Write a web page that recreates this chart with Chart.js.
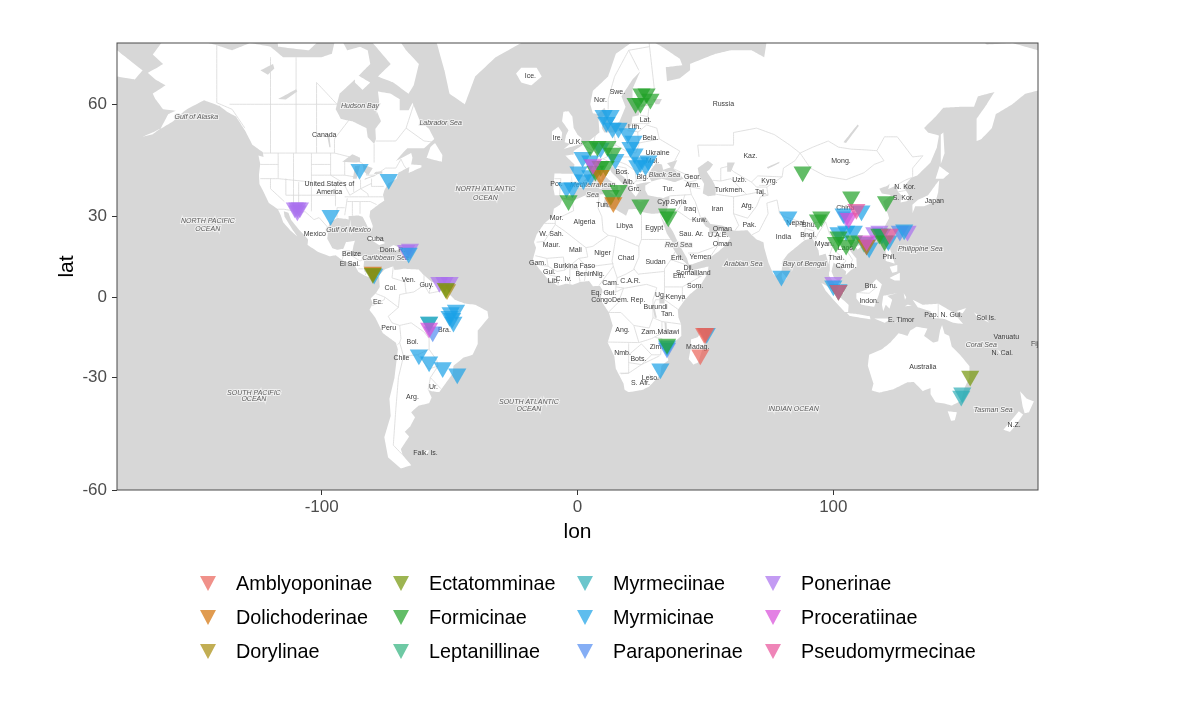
<!DOCTYPE html>
<html>
<head>
<meta charset="utf-8">
<title>Ant subfamily records</title>
<script src="https://cdn.jsdelivr.net/npm/chart.js@4"></script>
<style>
    html, body { margin: 0; padding: 0; background: #fff; }
    #wrap { position: relative; width: 1200px; height: 705px; font-family: "Liberation Sans", Arial, sans-serif; }
    #legend { position: absolute; left: 0; top: 0; }
    .key { position: absolute; font-size: 19.8px; line-height: 22px; color: #000; white-space: nowrap; }
    .tri { position: absolute; width: 16px; height: 15px; clip-path: polygon(0 0, 100% 0, 50% 100%); }
</style>
</head>
<body>
<div id="wrap">
    <canvas id="chart" width="1200" height="705"></canvas>
    <div id="legend"></div>
</div>
<script>
// subfamilies, in legend order
const subfamilies = ['Amblyoponinae', 'Dolichoderinae', 'Dorylinae', 'Ectatomminae', 'Formicinae', 'Leptanillinae',
    'Myrmeciinae', 'Myrmicinae', 'Paraponerinae', 'Ponerinae', 'Proceratiinae', 'Pseudomyrmecinae'];
const subfamilyColors = ['rgba(234,99,88,.7)', 'rgba(211,112,5,.7)', 'rgba(168,139,12,.7)', 'rgba(115,149,8,.7)',
    'rgba(32,161,39,.7)', 'rgba(49,178,126,.7)', 'rgba(45,174,182,.7)', 'rgba(26,161,231,.7)',
    'rgba(81,139,241,.7)', 'rgba(169,112,238,.7)', 'rgba(215,75,217,.7)', 'rgba(232,81,154,.7)'];
// back to front
const drawOrder = ['Paraponerinae', 'Ponerinae', 'Myrmicinae', 'Leptanillinae', 'Myrmeciinae', 'Formicinae',
    'Dolichoderinae', 'Dorylinae', 'Ectatomminae', 'Proceratiinae', 'Amblyoponinae', 'Pseudomyrmecinae'];

const lonTicks = [-100, 0, 100];
const latTicks = [-60, -30, 0, 30, 60];

// records, lon / lat
const amblyoponinaeLon = [50, 49.5, 48];
const amblyoponinaeLat = [-14, -14, -22];
const dolichoderinaeLon = [9, 14, -80, 113];
const dolichoderinaeLat = [43, 34.7, 9.8, 20];
const dorylinaeLon = [-51];
const dorylinaeLat = [3];
const ectatomminaeLon = [-80, -51.5, 153.5];
const ectatomminaeLat = [9.3, 3.5, -29.5];
const formicinaeLon = [22.7, 24.6, 25, 27, 28.5, 5, 7.8, 11.7, 13.7, 9, 11, 7, -3.5, 16, 13, 24.6, 35, 35.5, 88, 107, 120.6, 95.3, 94, 101, 102, 105, 108, 118, 120, 102, 35];
const formicinaeLat = [60.2, 60.2, 62, 62, 61, 50.7, 50.7, 50.7, 49, 45.5, 45.5, 44.2, 35.3, 38.5, 37, 34, 31, 30, 44, 36.5, 35, 30, 29, 21, 23, 20, 21.5, 24, 21.5, 2.7, -18];
const leptanillinaeLon = [112];
const leptanillinaeLat = [21];
const myrmeciinaeLon = [150.4, 150, -58];
const myrmeciinaeLat = [-35, -36, -9.7];
const myrmicinaeLon = [-85.2, -73.8, -96.5, -66, -79.5, -49.6, -49, -48.5, -50, -47.5, -58, -62, -58, -52.7, -47, 32.4, 35, 50.5,
    10.2, 12.9, 11.3, 13.7, 16, 19.5, 21.9, 20.7, 22.3, 23.4, 24.6, 26.6, 27.7,
    2, 5, 2.3, 0.4, -4.3, -2, 9, 14.8, 5,
    82.4, 79.7, 104, 111, 102, 105, 108, 119, 121.5, 113, 114, 127.7, 102, 100];
const myrmicinaeLat = [44.7, 41.8, 30.5, 17, 9, -6, -8.2, -9.7, -7.5, -5, -9.7, -22, -24.5, -26.5, -28.7, -27, -18.7, -14,
    57.8, 57.8, 56.3, 55, 55, 53.8, 52, 50.5, 48.8, 45.7, 46.5, 45.7, 47,
    47.9, 47, 41.7, 44, 39.3, 39.3, 50.3, 47.4, 42.9,
    30, 8.2, 31, 32, 24.5, 25, 25, 24, 21.5, 20, 19, 25.5, 3, 4.5];
const paraponerinaeLon = [-56.6, 35, 126];
const paraponerinaeLat = [-13.4, -19.5, 25];
const ponerinaeLon = [-110.5, -109.5, -108.5, -109.5, -65.5, -67, -52, -50, -54, 100, 118, 116, 129, 105];
const ponerinaeLat = [33, 33, 33, 32, 18.5, 18, 5.8, 5.8, 5.8, 5.8, 25, 24.5, 25, 30];
const proceratiinaeLon = [-58, 106, 113, 6];
const proceratiinaeLat = [-12, 29.5, 21.5, 46];
const pseudomyrmecinaeLon = [102, 122, 109];
const pseudomyrmecinaeLat = [2.7, 24, 32.5];

const recordLon = [amblyoponinaeLon, dolichoderinaeLon, dorylinaeLon, ectatomminaeLon, formicinaeLon, leptanillinaeLon,
    myrmeciinaeLon, myrmicinaeLon, paraponerinaeLon, ponerinaeLon, proceratiinaeLon, pseudomyrmecinaeLon];
const recordLat = [amblyoponinaeLat, dolichoderinaeLat, dorylinaeLat, ectatomminaeLat, formicinaeLat, leptanillinaeLat,
    myrmeciinaeLat, myrmicinaeLat, paraponerinaeLat, ponerinaeLat, proceratiinaeLat, pseudomyrmecinaeLat];

// land, [lon, lat]
const northAmerica = [[-168,65.6],[-164,66.5],[-162,67],[-166,68.4],[-162,70.3],[-156.5,71.3],[-150,70.5],[-141,69.7],[-135,69],[-128,70],[-120,69.5],[-115,68],[-108,68],[-100,68],[-96,68.5],[-94,71.5],[-90,69],[-85,69.5],[-82,69],[-81,67],[-87,64.5],[-93,62],[-94.5,59],[-92.5,57],[-88,56.5],[-82.5,55],[-82,52.9],[-79.5,51.3],[-78.8,52.5],[-79,54.8],[-76.8,56.5],[-78.5,58.7],[-77.5,60.5],[-78,62.4],[-73,62],[-69.5,61],[-69.5,58.8],[-66,58.8],[-64.5,60.3],[-61.5,56.5],[-58,54.8],[-56,52.5],[-60,50.2],[-66.5,50.2],[-69,48.5],[-71,46.9],[-65,49],[-64.5,47.8],[-65,46],[-61,45.8],[-61,45.2],[-66,43.6],[-65.7,45.3],[-67,44.9],[-70,43.7],[-70.7,42],[-74,40.6],[-75.5,38.5],[-76,37],[-75.5,35.3],[-78,33.9],[-81,32],[-81.3,30],[-80,26.8],[-80.4,25.2],[-81.8,26],[-82.8,28],[-84,30],[-86,30.4],[-89.5,30.2],[-89.4,29],[-91,29.3],[-94,29.6],[-97,28],[-97.4,25.5],[-97.8,22.3],[-95.8,18.8],[-94,18.2],[-91.5,18.6],[-90.5,21],[-87,21.5],[-87.6,19.5],[-88,17.5],[-88.8,15.9],[-84,15.9],[-83.3,15],[-83.6,12],[-83.3,10],[-81.5,8.9],[-79.6,9.5],[-77.4,8.6],[-78,7.6],[-79.5,8.9],[-80.4,7.4],[-82.8,8.2],[-85.7,9.9],[-87.5,13],[-91.5,14],[-94.5,16.2],[-97,15.8],[-101.5,17.5],[-105.5,20],[-105.3,22],[-108.5,25.2],[-112,29],[-113,31.3],[-114.8,31.8],[-114.5,30],[-111,25],[-109.5,23],[-112,25],[-115,28],[-116,30.5],[-117.1,32.5],[-120.6,34.5],[-122.5,37.7],[-124.3,40.4],[-124.5,43],[-124,46.2],[-124.7,48.4],[-122.7,48],[-123,49.2],[-127,51],[-130,54.5],[-133.5,57.5],[-137,58.5],[-140,59.7],[-146,60.8],[-149,60],[-152,59.2],[-154,58.5],[-158,56.5],[-163,54.8],[-160,58],[-157,58.7],[-162,59],[-165,61],[-166,62],[-161,63.5],[-165,64.5]];
const southAmerica = [[-77.5,8.6],[-75.5,10.7],[-72,12],[-71.5,10.5],[-68,11],[-62,10.7],[-60,8.5],[-57,6],[-52,4.8],[-50,1],[-48,-1],[-44,-2.5],[-40,-3],[-35.2,-5.5],[-34.8,-8],[-39,-13],[-39,-18],[-41,-22],[-44.5,-23],[-48.5,-26],[-48.7,-28.5],[-52,-32.5],[-54,-34.8],[-57,-34.5],[-58.4,-34],[-57,-36.5],[-58,-38.3],[-62,-39],[-65,-41],[-63.5,-42.5],[-65.3,-45],[-67.5,-46.5],[-65.8,-47.8],[-69,-51],[-68.3,-52.5],[-65,-54.8],[-69,-55.5],[-74,-53],[-75.5,-48],[-73,-42],[-73.5,-37],[-71.5,-30],[-70.2,-20],[-71,-17.5],[-76,-14],[-79,-8],[-81.3,-5],[-80,-2.5],[-80.8,-0.5],[-78.8,1.5],[-77.3,4],[-77.5,7]];
const africa = [[-5.9,35.8],[-2,35.2],[3,36.9],[10,37.3],[11,36.9],[10.2,34.3],[11,33.2],[15.2,32.3],[19,30.3],[20,32.5],[23,32.6],[25,31.6],[29,31],[32.3,31.2],[32.6,29.9],[35,24],[37.2,21],[37.5,18.5],[39.5,15.5],[43.2,12.4],[43.2,11.5],[44.5,10.4],[51.2,11.9],[50.8,9],[48,4.5],[44,1.2],[41.5,-1.7],[39.2,-5],[39.5,-8],[40.5,-10.5],[40.6,-15],[37,-18],[34.9,-20],[35.5,-24],[32.8,-26],[32.4,-29],[28,-33],[25.7,-34],[20,-34.8],[18.4,-34],[18,-32],[15,-27],[14.4,-22.5],[11.8,-17.5],[13.8,-11],[12.2,-5.8],[9,-1],[9.7,3],[8.7,4.5],[6,4.3],[4.5,6.3],[1,5.9],[-2,4.8],[-4.5,5.2],[-7.5,4.4],[-11.4,6.9],[-13.3,9],[-15,11],[-16.8,13.3],[-17.4,14.7],[-16.2,19],[-17,21],[-16,23.7],[-13,27.7],[-9.8,30],[-9.2,32.7],[-6.8,34]];
const eurasia = [[-5.6,36],[-2,36.8],[0,38.7],[0.3,40],[3.2,41.9],[4.5,43.4],[6.5,43.1],[8.8,44.4],[10.5,43],[12.3,41.7],[15.7,40],[16,38],[17,39],[16.6,40],[18.4,40],[15.8,42],[13.5,43.6],[12.4,45],[13.8,45.6],[15.5,44],[19,42],[19.5,40.5],[21.2,38],[22.8,36.5],[24,38],[22.9,40.3],[26,40.8],[29,41.1],[28,42.5],[28.7,44.5],[30.7,46.4],[33,46],[33.5,44.5],[36.5,45.2],[35,46.3],[39,47.2],[37.5,44.8],[41.5,42],[38,41],[33,42],[29,41.2],[26.5,40],[26.5,38.5],[27.5,37],[30.5,36.5],[33.5,36.1],[36,36.8],[35.8,35],[34.9,32],[34.3,31.3],[32.3,31.2],[33,29.5],[34.2,27.8],[34.9,29.5],[35,28],[37.2,25],[39,21.5],[41,18],[42.8,15],[43.5,12.7],[45,12.8],[49,14.2],[52.2,15.6],[55,17.5],[58,20],[59.8,22.5],[56.5,24.5],[56.3,26.3],[54,24.2],[51.6,24.3],[51.5,26],[50,26.7],[48,29.8],[50,30],[52,27.5],[56.5,27],[61.5,25.1],[66.5,25.3],[68,23.7],[70,22],[72.7,21],[73,19],[74.8,13],[76.5,9],[77.5,8.1],[79.8,10.3],[80.2,14],[82.3,16.7],[86.5,20],[88.8,21.7],[91.8,22.4],[94.2,18],[94.5,16],[97,16.7],[98.5,12],[98.3,8.3],[100.3,5.5],[101.3,3],[103.4,1.4],[104.2,1.5],[103.4,4],[102,6.3],[100.3,7.5],[99.3,10],[100.1,13.4],[101,12.7],[102.8,11.7],[105,10],[104.8,8.6],[106.7,10.4],[109.2,11.8],[109,15],[106,18.5],[106.7,20.7],[109.5,21.5],[110.5,20.4],[113.5,22.2],[117,23.6],[119.5,25.6],[121.8,29.5],[121.3,31],[120,33.5],[119.5,35],[122.5,37],[119,37.5],[118,39],[121,39.8],[122,40.5],[121.5,38.9],[124.5,40],[125.3,38],[126.6,37],[126.3,34.7],[129,35.2],[129.5,37],[127.5,39.5],[130.5,42.3],[133,43],[138,46.5],[140.5,50.5],[141.3,53.3],[137,54],[135.5,55],[140,57.5],[143,59.3],[150,59.5],[155,59.5],[156.5,61.5],[163,62.3],[160,60],[156,57],[156,52],[158,52.5],[162,55],[163.5,58],[170,60],[175,62],[180,62.6],[180,69],[170,70],[160,69.8],[150,72],[140,73],[130,71],[115,73.5],[105,77],[85,75],[75,72.5],[73,68],[68,69],[60,69],[54,68.5],[44,67],[44,66],[40,64.7],[35,64.2],[34.5,66.5],[41,66.8],[40,67.8],[33,69.5],[25,71],[15,68.5],[12,65],[6,62.5],[5,60],[6,58.2],[8,58],[10.5,59.3],[11.3,58.5],[12.8,55.5],[14.3,55.5],[16.5,56.5],[18.8,59.5],[17.2,61.5],[21.5,64.5],[24.5,65.8],[21.5,62.8],[21.5,60.7],[25,60],[30,60],[24.5,59.4],[24,57.8],[21.5,57.5],[21,55.5],[18.5,54.7],[14,54],[10.5,54],[9.5,55],[10.5,57.7],[8.2,57],[8.6,54],[4.5,52],[2,51],[-1.5,49.5],[-1.5,48.6],[-4.7,48.3],[-1.2,46],[-1.7,43.4],[-9,43.5],[-9.4,39],[-8.9,37],[-6.5,37]];
const australia = [[114,-22],[113.5,-26],[115.7,-32],[115,-34.3],[118,-35],[123.5,-33.9],[129,-31.6],[131.5,-31.5],[135,-34.5],[138,-33.5],[138,-35.5],[140,-38],[144,-38.5],[146.3,-39],[150,-37.5],[151,-34],[153.2,-30],[153.2,-26],[150,-22.5],[146.3,-19],[145.3,-15],[143.5,-14.2],[142.5,-10.8],[141.7,-13],[141,-17],[139,-17.5],[135.5,-15],[136.8,-12.2],[132.5,-11.5],[130,-13],[129,-15],[125.5,-14],[122.3,-17.5],[119,-20]];
const islands = [
    [[-80,73.7],[-72,71.5],[-67,69],[-62,67],[-64,63.5],[-66,62],[-72,64],[-78,65],[-73,67],[-80,70]],
    [[-117,69.5],[-105,69],[-102,70],[-110,73],[-118,72]],
    [[-87,65.5],[-81,64],[-84,62.7],[-87,64]],
    [[-59,47.7],[-53,46.7],[-52.8,48.5],[-55.7,51.5],[-57.5,50.5]],
    [[-85,21.9],[-80,23],[-75,20.7],[-77.5,19.9],[-82,22.5]],
    [[-74.4,18.5],[-72,20],[-68.4,18.6],[-71,18]],
    [[-78.3,18.4],[-76.3,18.2],[-77,17.8]],
    [[-67.2,18.5],[-65.6,18.4],[-66,18],[-67.2,18]],
    [[-55,70],[-52,66],[-50,62],[-44,60],[-40,65],[-32,68],[-22,70],[-22,75],[-60,76]],
    [[-24,65.5],[-22,64],[-18,63.5],[-14,65],[-16,66.4],[-22,66.4]],
    [[-180,69],[-170,66],[-173,64.5],[-180,65]],
    [[-170,53],[-165,54.3],[-163,54.9],[-166,53.6]],
    [[-5.5,50],[1.2,51.2],[1.6,52.7],[0,53.5],[-1.5,55],[-2,57.5],[-3.5,58.6],[-5.5,58.5],[-6,56.5],[-3.5,54.5],[-4.5,53.3],[-5,51.7],[-3,51.3]],
    [[-10,52],[-6.3,52.2],[-6,54],[-7.5,55.3],[-10,54.2]],
    [[12.5,38],[15.5,38.2],[15,36.7]],
    [[8.3,41],[9.7,41],[9.5,39],[8.5,39]],
    [[8.6,42.5],[9.5,43],[9.3,41.4]],
    [[23.5,35.5],[26.3,35.2],[24,35]],
    [[32.3,35],[34.5,35.6],[33.5,34.7]],
    [[11,56],[12.6,56],[12,55]],
    [[130.9,34],[131,31.2],[132,33.5],[135.5,33.5],[140,35],[141,38],[141.4,41.5],[139.8,40],[137,37],[133,35.5]],
    [[140,42],[141.5,45.5],[145.3,43.5],[143,42]],
    [[142,46],[143.5,49],[143,54],[142,53.5]],
    [[121,25],[122,25],[120.8,22],[120.1,23]],
    [[108.7,19.3],[110.5,20],[111,19.5],[109.5,18.2]],
    [[80,9.7],[81.8,7.5],[80.5,6],[79.8,8]],
    [[95.3,5.6],[98,4],[103.8,-1],[106,-3],[105.8,-5.8],[104.5,-5.8],[100.5,-1.5],[97,2.5]],
    [[105.3,-6.2],[108.5,-6.5],[114.3,-7.5],[114.5,-8.7],[106.4,-7.4]],
    [[109,1.5],[113,3],[116.8,7],[119,5],[117.8,1],[116,-3.8],[111,-3],[109,-0.5]],
    [[119.5,0.5],[125,1.5],[121,0.5],[123,-1],[122,-4.5],[120.5,-3],[119.5,-5.5],[119,-3]],
    [[120.5,18.5],[122.2,18.4],[124,13],[120.5,14]],
    [[122,7.5],[126,9.5],[126,6.5],[124,6.5]],
    [[122,11.8],[125,12.5],[125,10],[123,9.5]],
    [[118,9],[119.5,11],[117.5,8.3]],
    [[131,-1],[135,-3],[141,-2.6],[147,-6],[150.8,-10.5],[147,-10],[143.5,-8.5],[138.5,-8],[138,-5.5],[133,-4]],
    [[148,-5.5],[152,-4.2],[150.5,-6.3]],
    [[124,-10],[127,-8.4],[125,-9]],
    [[116,-8.3],[123,-8.3],[120,-10]],
    [[127.5,1.5],[128.5,0],[128,-1]],
    [[129,-3],[131,-3.3],[128,-3.6]],
    [[155,-6],[160,-9],[161,-10],[156,-7.5]],
    [[164,-20],[167,-22.3],[165,-21.5]],
    [[166.7,-15],[168,-16.5],[167,-16]],
    [[177.3,-17.5],[178.6,-18],[177.5,-18.3]],
    [[144.7,-40.7],[148.3,-41],[147.5,-43.3],[146,-43.5]],
    [[173,-34.5],[175.5,-36.8],[178.4,-37.7],[176.5,-41],[174.8,-41.3],[174,-39.3]],
    [[172.5,-40.7],[174.2,-41.7],[171,-45],[169,-46.6],[166.5,-46],[170,-43]],
    [[49.3,-12],[50.4,-15.5],[49.5,-18],[47.2,-24.8],[45.3,-25.5],[43.5,-23.5],[44.2,-20],[44.4,-16.3],[47,-15.5]],
    [[-61,-51.3],[-58,-51.3],[-59,-52.3]]
];
const waterBodies = [
    [[47,45],[51,47],[53,46],[51.5,44.5],[50.5,44],[52.8,41.5],[54,39.5],[54,37],[51,36.7],[49,37.5],[49.5,40.5],[47.5,43]],
    [[-92,46.7],[-88,48.7],[-85,47.8],[-85,46.6],[-87.5,46.5]],
    [[-87.8,42],[-86.3,42],[-85,45.7],[-87,45.5]],
    [[-84,46],[-80,45],[-81.7,43],[-83.5,44]],
    [[-83.3,41.6],[-79,42.8],[-79.5,43],[-83,42.1]],
    [[-79.7,43.3],[-76.3,43.4],[-76.3,44.1],[-79,43.9]],
    [[-98,53.8],[-97,53.5],[-96.5,50.5],[-97,50.5]],
    [[-124,66],[-119,67],[-118.5,66.3],[-121,65.3]],
    [[-117,61],[-110,62.8],[-109.5,62.4],[-114,60.9]],
    [[104,51.7],[109.5,55.8],[110,55.5],[105,51.5]],
    [[74,45.2],[79,46.7],[78.8,46.3],[74.5,44.8]],
    [[58.5,46.5],[61.5,46.5],[60,44],[58.5,44]],
    [[32,0],[34,0.2],[34,-2.5],[32,-2.5]],
    [[29.3,-3.5],[30,-3.5],[31,-8],[30.2,-8]],
    [[34,-9.7],[34.8,-10],[35,-14],[34.3,-14]],
    [[29.5,61],[33,61],[32,60],[30.5,60]]
];

// borders, each one a polyline
const borders = [
    [[-123,49],[-95,49],[-89,48],[-84.5,46.5],[-82.5,45],[-82.5,43],[-79,43],[-75,45],[-71,45],[-69,47.4],[-67.8,45.7],[-67,44.9]],
    [[-141,69.7],[-141,60.3],[-135,59],[-130,55]],
    [[-117.1,32.5],[-114.8,32.5],[-108,31.5],[-106.5,31.7],[-103,29],[-101,29.7],[-97.2,25.9]],
    [[-120,49],[-120,68]],[[-110,49],[-110,68]],[[-102,49],[-102,64],[-94,60]],[[-136,60],[-94,60]],[[-95,49],[-95,52.5],[-89,57]],[[-79.5,51.3],[-79.5,46.5]],[[-64,60],[-67,55],[-60,52],[-57,51.8]],[[-67,55],[-71,52],[-79,52]],
    [[-104,49],[-104,31.8]],[[-111,49],[-111,31.3]],[[-117,49],[-117,42],[-124,42]],[[-120,42],[-120,39],[-114.6,35]],[[-114,42],[-114,37]],[[-124,46],[-117,46]],[[-117,42],[-104,41]],[[-109,41],[-109,31.5]],[[-114,37],[-94.6,37]],[[-104,43],[-96.5,43]],[[-104,46],[-96.5,46]],[[-96.5,49],[-96.5,43],[-91,40.5]],[[-94.6,40],[-94.6,33.5]],[[-102,40],[-95,40]],[[-91,36.5],[-89.5,36.5],[-81.7,36.5],[-75.9,36.5]],[[-91,33],[-94,33],[-94,29.7]],[[-88,35],[-88,30.3]],[[-85,35],[-85,31]],[[-90,36],[-91,30.5]],[[-87.5,41.5],[-87.5,38]],[[-84.8,41.7],[-84.8,39]],[[-80.5,42],[-80.5,39.7],[-75.7,39.7]],[[-91,40],[-89,37],[-84.8,39],[-80.5,40.6]],[[-90,35],[-85,35],[-81,35],[-78.5,34]],[[-84.8,39],[-82,37.5],[-81.7,36.5]],[[-96.5,43],[-91,43],[-87,42.5]],[[-91,47],[-91,43]],
    [[-92,14.5],[-91,17.8],[-89,17.9],[-88.2,16]],[[-89.3,14],[-87.5,13]],[[-88.2,16],[-85,14],[-83.2,15]],[[-85.7,11],[-83.7,11]],[[-83,8.5],[-82.6,9.5]],
    [[-51.6,4.3],[-54,2.3],[-58,1.5],[-60,5],[-61,4],[-64,2],[-67,1.5],[-69.5,1],[-70,-4],[-74,-7.5],[-72.5,-10],[-69.5,-11],[-65,-10],[-60,-13.5],[-58,-16],[-58,-20],[-55,-24],[-54.5,-26],[-57.5,-30],[-53.4,-33.7]],
    [[-80.3,-3.4],[-75.5,-1],[-75.3,0],[-78.8,1.4]],[[-75.3,0],[-70,-4]],[[-69.5,-11],[-69,-16],[-69.5,-17.5],[-70.4,-18.3]],[[-69.5,-17.5],[-68,-22.5],[-70,-30],[-71,-40],[-72,-50],[-68.5,-52.3]],[[-68,-22.5],[-62.5,-22],[-58,-20]],[[-62.5,-22],[-58,-27],[-54.5,-26]],[[-72,12],[-72.5,7.5],[-67.5,6],[-67,1.5]],[[-60,8.5],[-60,5]],[[-57,6],[-58,1.5]],[[-54,5.8],[-54,2.3]],[[-58.4,-34],[-57.5,-30]],
    [[-8.7,27.7],[-13,27.7]],[[-2,35],[-1.5,32],[-8.7,29],[-8.7,27.3]],[[-8.7,27.3],[-5,25],[3.3,19],[6,19.5],[12,23.5]],[[8.5,37],[8,33],[9.5,30],[10,25],[12,23.5]],[[12,23.5],[15,23],[24,19.5]],[[25,31.6],[25,22],[36.8,22]],[[25,22],[24,19.5],[24,15.5],[22,11],[24,8.7]],[[15,23],[13.5,14],[14,12],[15.5,7.5],[19,9],[22.5,11]],[[15,4],[18.5,3.5],[27,5],[31,3.7]],[[3.6,11.7],[14,13]],[[3.3,19],[4,15.5],[0.5,15],[3.6,11.7]],[[-8.7,27.3],[-13,21.3],[-16,21]],[[-12,15],[-5.5,15.5],[-5,10.5],[0.5,15]],[[-12,15],[-16.5,16]],[[-12,15],[-11.5,12],[-8,10],[-5,10.5]],[[-15,12.5],[-11.5,12]],[[-13,9.5],[-10.5,8.5],[-8,8],[-7.5,4.4]],[[-3,5],[-3,11],[0,11],[1,6]],[[2.7,6.3],[3.6,11.7]],[[8.5,4.7],[14,12]],[[12,-6],[17,-6],[22,-11],[28,-12],[29.5,-8],[29.5,-1],[31,3.7]],[[9.7,2],[15,2],[18,3.5],[16,-2],[12,-6]],[[15,2],[15,4],[15.5,7.5]],[[11.8,-17.3],[24,-17.5],[22,-11]],[[20,-17.8],[20,-28.5],[16.5,-28.5]],[[20,-22],[25,-18],[29,-22],[25,-25.5],[20,-24.8]],[[24,-17.5],[29,-16],[33,-14],[33,-9.5],[29.5,-8]],[[29,-22],[32.5,-22],[33,-16],[30.4,-15.6]],[[39.2,-4.7],[34,-1],[30.5,-1],[29.5,-4]],[[33,-9.5],[40.5,-10.5]],[[34,-1],[34,4],[41,4],[41,-1.7]],[[34,4],[34,11],[36.5,14.5],[43,12.4]],[[41,4],[48,8],[43,10.8]],[[44,9],[48.5,8]],[[24,9],[34,10]],[[36.5,14.5],[38.5,18]],[[17,-28.7],[20,-28.5],[25,-25.5],[32,-22.4]],[[28,-29],[29.5,-30],[27.5,-30.5]],
    [[2.5,51],[6,49.5],[8,49],[7.5,47.5],[7,44]],[[-1.7,43.4],[3.2,42.5]],[[-9,42],[-6.5,42],[-7,37]],[[14.2,54],[15,51],[12.5,50.5],[13.5,48.7],[10,47.5],[7.5,47.5]],[[6,51],[7,53.4]],[[15,51],[19,49.5],[22.8,49],[24,51],[23.5,54.2],[19.5,54.4]],[[13.5,48.7],[17,48],[22,48]],[[10,47.5],[13,46.5],[13.8,45.6]],[[13,46.5],[16,46.8],[19,46],[22.5,44.3]],[[21,56],[28,56],[27.5,57.5],[24.5,57.8]],[[27.5,57.5],[28,59.5]],[[23.5,54],[27,55.7],[31,55],[32,52.5],[24,51.5]],[[32,52.5],[40,49.5],[38,47]],[[22,48],[27,48],[29.7,45.3]],[[22.5,44.3],[28,43.8]],[[22.5,44.3],[23,41.3],[26,41.5]],[[19.5,42],[20.5,40],[23,41.3]],[[15.5,45.5],[19,45],[19.5,42]],[[28,70],[30,63],[28,60.6]],[[12,59],[12,61],[14.5,65],[20,69],[28,69.5]],[[20,69],[24,66]],
    [[36,36.8],[44.5,37.2],[43.5,41]],[[41.5,41.6],[43.5,41],[46.5,41.5]],[[37.5,44.8],[46,42],[48.5,41.8]],[[44.5,37.2],[46,35],[48,30]],[[44.5,39.5],[48,39]],[[54,37.3],[61,36.5],[61,31],[63,27],[61.5,25.1]],[[36,32.5],[39,32],[41,34.5],[42,37.2]],[[35,29.5],[37,31.5],[39,32],[44,29],[48,29]],[[43.2,17],[47,17],[52.8,19],[55,20],[52.2,16]],[[51.6,24.3],[55,22.7],[56,24.7]],[[55,22.7],[55,20]],
    [[61,31],[66.5,29.5],[70,33.5],[71.5,36.5],[74.5,37]],[[61,36.5],[66.5,37.3],[71,38],[74.5,37]],[[68.2,23.7],[71,25],[74.5,31],[74,34.5],[78,35.5]],[[78,35.5],[79,31],[81,30],[88,28],[92,28],[97,28.2]],[[80.3,29],[88,26.5]],[[88.5,21.8],[89,26],[92.5,25],[92.5,22]],[[97,28.2],[94,24],[93,22]],[[97,28.2],[98.5,24],[101,21.5]],[[98.5,16],[98.5,10]],[[98.5,16],[100,20.4],[101,21.5]],[[100,20.4],[101,17.5],[105,14]],[[102,22.3],[104.5,19],[107.5,14.5],[106,11]],[[102,22.3],[106,23],[108,21.5]],[[102.5,12],[105,14]],[[100.2,6.4],[102,6.2]],
    [[47.5,48],[47,51],[55,51],[61,51],[61,54],[70,55],[77,53.5],[83,51],[87,49]],[[53,41.5],[56,41.3],[56,45],[59,45.5],[61,44],[68,41],[70.5,42.8],[80,42.5],[80.5,45],[85,47],[87,49]],[[56,41.3],[60,42],[66,37.3]],[[71,40],[74,40]],[[80,42.5],[74,39.5],[74.5,37]],[[68,41],[70,39.5],[74,39.5]],
    [[87,49],[92,50.5],[98,52],[102,50.5],[107,50],[113,49.8],[117,49.6],[119.8,47],[116,46],[112,43.7],[105,41.7],[97,42.7],[91,45],[87,49]],[[117,49.6],[120,53],[125,53],[131,48],[135,48.3],[131,45],[131,42.5]],[[124.5,40],[128,41.5],[130.5,42.3]],[[125,38],[128.4,38.5]],
    [[141,-2.6],[141,-9]],[[124.5,-9.5],[125.2,-9]],[[109.5,1.8],[114,1.5],[117,4]]
];

// place names, [text, lon, lat]
const placeNames = [['Ice.',-18.4,65],['Nor.',9,60.9],['Swe.',15.6,62.3],['Russia',57,60],['Lat.',26.6,56.8],['Lith.',22.3,55.2],['Bela.',28.5,52.8],['Ukraine',31.3,48.9],['Mol.',29.3,47],['Kaz.',67.6,48.1],['Mong.',103,46.8],['Canada',-99,53.3],['Ire.',-7.8,52.8],['U.K.',-0.8,51.8],['United States of',-97,40.3],['America',-97,38],['Bos.',17.6,44],['Blg.',25.4,42.4],['Geor.',45,42.4],['Arm.',45,40],['Alb.',20,41],['Grc.',22.3,39],['Uzb.',63.3,41.5],['Kyrg.',75,41.2],['Turkmen.',59.4,38.7],['Taj.',71.5,38.1],['N. Kor.',128,39.6],['S. Kor.',127.3,36.2],['Japan',139.5,35.3],['Tur.',35.5,38.8],['Tun.',10,34],['Afg.',66.4,33.4],['Iran',54.7,32.4],['Cyp.',34,34.7],['Syria',39.5,34.7],['Iraq',44,32.6],['Por.',-8.2,40.3],['Mor.',-8.2,29.5],['Algeria',2.7,28.2],['Libya',18.4,26.9],['Egypt',30,26.2],['Kuw.',47.7,28.7],['Pak.',67.2,27],['Nepal',85.2,27.8],['Bhu.',90.6,27],['India',80.5,22.7],['Bngl.',90.2,23.5],['China',104.7,33],['Mexico',-102.7,24],['W. Sah.',-10.2,24],['Sau. Ar.',44.5,24],['U.A.E.',55,23.6],['Oman',56.6,25.7],['Oman',56.6,20.2],['Maur.',-10.2,20],['Mali',-0.8,18],['Niger',9.8,17],['Chad',19,15],['Sudan',30.5,13.6],['Erit.',39,15],['Yemen',48,15.4],['Myan.',96.5,20.2],['Laos',104.7,19],['Cuba',-79,22],['Dom. R.',-72.3,18.2],['Belize',-88.3,16.7],['El Sal.',-89,13],['Thai.',101.2,15],['Camb.',105,12],['Gam.',-15.6,13.2],['Gui.',-11,9.8],['Burkina Faso',-1.2,12],['Benin',2.7,8.9],['Nig.',8.2,8.9],['Dji.',43.4,11.2],['Somaliland',45.3,9.3],['Eth.',39.8,8.2],['C.A.R.',20.7,6.2],['Cam.',12.9,5.4],['Som.',46,4.2],['Lib.',-9.4,6.2],['C. Iv.',-5.5,7],['Ven.',-66,6.6],['Guy.',-59,4.7],['Col.',-73,3.5],['Phil.',121.9,15.3],['Bru.',114.8,4.3],['Indon.',114,-1.5],['Ug.',32.4,0.8],['Kenya',38.3,0],['Eq. Gui.',10.2,1.5],['Congo',9.4,-1.2],['Dem. Rep.',20,-1.2],['Ec.',-78,-2],['Burundi',30.5,-3.8],['Tan.',35.2,-6.5],['Pap. N. Gui.',143,-7],['E. Timor',126.5,-8.8],['Sol Is.',159.8,-8],['Peru',-73.8,-12],['Bra.',-52,-12.7],['Bol.',-64.5,-17.2],['Ang.',17.6,-12.7],['Zam.',28,-13.4],['Malawi',35.5,-13.4],['Zim.',30.9,-19],['Madag.',47,-19],['Vanuatu',167.6,-15.5],['N. Cal.',166,-21.5],['Fiji',179,-18],['Chile',-68.8,-23],['Nmb.',17.6,-21.5],['Bots.',23.8,-23.5],['Australia',135,-26.5],['Leso.',28.5,-30],['S. Afr.',24.6,-32],['Ur.',-56.3,-33],['Arg.',-64.5,-36.5],['N.Z.',170.7,-44.7],['Falk. Is.',-59.4,-52]];
const seaNames = [['Hudson Bay',-85,59.7],['Gulf of Alaska',-149,57.5],['Labrador Sea',-53.5,56.2],['NORTH ATLANTIC',-36,39],['OCEAN',-36,36.2],['Black Sea',34,42.9],['NORTH PACIFIC',-144.5,28.5],['OCEAN',-144.5,25.8],['Gulf of Mexico',-89.5,25.3],['Red Sea',39.5,20],['Arabian Sea',64.8,13],['Bay of Bengal',88.7,13],['Philippine Sea',134,18.5],['Caribbean Sea',-75,15],['Coral Sea',157.8,-18.5],['SOUTH PACIFIC',-126.5,-35],['OCEAN',-126.5,-37],['SOUTH ATLANTIC',-19,-38],['OCEAN',-19,-40],['INDIAN OCEAN',84.4,-40],['Tasman Sea',162.5,-40.3],['Mediterranean',5.9,40],['Sea',5.9,37.2]];

// mercator, in degrees, so one unit is the same on both axes
function merc(lat) {
    return Math.log(Math.tan(Math.PI / 4 + lat * Math.PI / 360)) * 180 / Math.PI;
}

function toPoints(pairs) {
    return pairs.map(p => ({ x: p[0], y: merc(p[1]) }));
}

// tension 0 would take the fast path, which merges points sharing a pixel column and breaks the outlines
const NO_FAST_PATH = 0.0001;

function areaDataset(pairs, color, order) {
    return { data: toPoints(pairs), fill: 'shape', backgroundColor: color, borderWidth: 0, pointRadius: 0, tension: NO_FAST_PATH, order: order };
}

const datasets = [];
[northAmerica, southAmerica, africa, eurasia, australia].concat(islands).forEach(shape => {
    datasets.push(areaDataset(shape, '#ffffff', 200));
});
waterBodies.forEach(shape => {
    datasets.push(areaDataset(shape, '#d7d7d7', 150));
});

const borderPoints = [];
borders.forEach(line => {
    toPoints(line).forEach(p => borderPoints.push(p));
    borderPoints.push({ x: null, y: null });
});
datasets.push({ id: 'borders', data: borderPoints, borderColor: '#d8d8d8', borderWidth: 0.8, pointRadius: 0, fill: false, spanGaps: false, tension: NO_FAST_PATH, order: 100 });

subfamilies.forEach((name, i) => {
    datasets.push({
        label: name,
        data: recordLon[i].map((lon, k) => ({ x: lon, y: merc(recordLat[i][k]) })),
        showLine: false,
        pointStyle: 'triangle',
        pointRotation: 180,
        pointRadius: 10.5,
        pointBorderWidth: 0,
        pointBackgroundColor: subfamilyColors[i],
        order: drawOrder.length - drawOrder.indexOf(name)
    });
});

const mapLayers = {
    id: 'mapLayers',
    beforeDraw(chart) {
        const a = chart.chartArea;
        chart.ctx.save();
        chart.ctx.fillStyle = '#d7d7d7';
        chart.ctx.fillRect(a.left, a.top, a.width, a.height);
        chart.ctx.restore();
    },
    afterDatasetDraw(chart, args) {
        // names go on right after the borders, under the records
        if (chart.data.datasets[args.index].id !== 'borders') return;
        const ctx = chart.ctx, a = chart.chartArea, xs = chart.scales.x, ys = chart.scales.y;
        ctx.save();
        ctx.beginPath();
        ctx.rect(a.left, a.top, a.width, a.height);
        ctx.clip();
        ctx.textAlign = 'center';
        ctx.textBaseline = 'middle';
        ctx.font = '7px "Liberation Sans", Arial, sans-serif';
        ctx.fillStyle = '#3c3c3c';
        placeNames.forEach(n => {
            ctx.fillText(n[0], xs.getPixelForValue(n[1]), ys.getPixelForValue(merc(n[2])));
        });
        ctx.font = 'italic 7px "Liberation Sans", Arial, sans-serif';
        ctx.lineWidth = 2.2;
        ctx.strokeStyle = '#f0f0f0';
        ctx.fillStyle = '#5a5a5a';
        seaNames.forEach(n => {
            const x = xs.getPixelForValue(n[1]), y = ys.getPixelForValue(merc(n[2]));
            ctx.strokeText(n[0], x, y);
            ctx.fillText(n[0], x, y);
        });
        ctx.restore();
    },
    afterDatasetsDraw(chart) {
        const a = chart.chartArea, ctx = chart.ctx;
        ctx.save();
        ctx.strokeStyle = '#4a4a4a';
        ctx.lineWidth = 1;
        ctx.strokeRect(a.left, a.top, a.width, a.height);
        ctx.restore();
    }
};

new Chart(document.getElementById('chart').getContext('2d'), {
    type: 'line',
    data: { datasets: datasets },
    plugins: [mapLayers],
    options: {
        responsive: false,
        animation: false,
        events: [],
        layout: { padding: { left: 55, top: 43, right: 162, bottom: 160 } },
        plugins: { legend: { display: false }, tooltip: { enabled: false } },
        scales: {
            x: {
                type: 'linear',
                min: -180,
                max: 180,
                afterFit(scale) { scale.height = 55; },
                afterBuildTicks(scale) { scale.ticks = lonTicks.map(v => ({ value: v })); },
                grid: { drawOnChartArea: false, tickLength: 5, tickColor: '#333', tickWidth: 1 },
                border: { display: false },
                ticks: {
                    color: '#4d4d4d',
                    padding: 2,
                    maxRotation: 0,
                    autoSkip: false,
                    font: { family: '"Liberation Sans", Arial, sans-serif', size: 17 },
                    callback: v => String(v)
                },
                title: { display: true, text: 'lon', color: '#000', padding: 0, font: { family: '"Liberation Sans", Arial, sans-serif', size: 21 } }
            },
            y: {
                type: 'linear',
                min: merc(-60),
                max: merc(70),
                afterFit(scale) { scale.width = 62; },
                afterBuildTicks(scale) { scale.ticks = latTicks.map(v => ({ value: merc(v) })); },
                grid: { drawOnChartArea: false, tickLength: 5, tickColor: '#333', tickWidth: 1 },
                border: { display: false },
                ticks: {
                    color: '#4d4d4d',
                    padding: 5,
                    autoSkip: false,
                    font: { family: '"Liberation Sans", Arial, sans-serif', size: 17 },
                    callback: (v, i) => String(latTicks[i])
                },
                title: { display: true, text: 'lat', color: '#000', padding: 0, font: { family: '"Liberation Sans", Arial, sans-serif', size: 21 } }
            }
        }
    }
});

// legend runs down the columns, which the built in one can't do
const legendColumns = [208, 401, 585, 773];
const legendRows = [583, 617, 651];
const legendEl = document.getElementById('legend');
subfamilies.forEach((name, i) => {
    const col = legendColumns[Math.floor(i / legendRows.length)];
    const row = legendRows[i % legendRows.length];
    const tri = document.createElement('div');
    tri.className = 'tri';
    tri.style.left = (col - 8) + 'px';
    tri.style.top = (row - 7) + 'px';
    tri.style.background = subfamilyColors[i];
    const key = document.createElement('div');
    key.className = 'key';
    key.style.left = (col + 28) + 'px';
    key.style.top = (row - 11) + 'px';
    key.textContent = name;
    legendEl.appendChild(tri);
    legendEl.appendChild(key);
});
</script>
</body>
</html>
